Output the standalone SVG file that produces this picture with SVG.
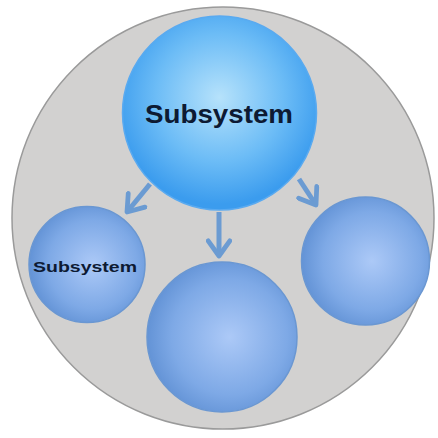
<svg xmlns="http://www.w3.org/2000/svg" width="438" height="438" viewBox="0 0 438 438">
<defs>
<radialGradient id="gTop" cx="0.5" cy="0.42" r="0.55">
<stop offset="0" stop-color="#b6e2fb"/>
<stop offset="0.6" stop-color="#6cbcf6"/>
<stop offset="1" stop-color="#3b9cee"/>
</radialGradient>
<radialGradient id="gSub" cx="0.55" cy="0.5" r="0.55">
<stop offset="0" stop-color="#acc9f7"/>
<stop offset="0.7" stop-color="#7ea9e6"/>
<stop offset="1" stop-color="#6393d6"/>
</radialGradient>
<marker id="chev" viewBox="0 0 12 12" refX="9" refY="6" markerWidth="5.2" markerHeight="5.2" orient="auto" markerUnits="strokeWidth">
<path d="M2,1 L9,6 L2,11" fill="none" stroke="#6b9bd2" stroke-width="2.2" stroke-linecap="round" stroke-linejoin="round"/>
</marker>
<style>
.sub{fill:url(#gSub);stroke:#6a97d2;stroke-width:1.5}
.lbl{font-family:"Liberation Sans",Arial,sans-serif;font-weight:bold;fill:#0d1a33;text-anchor:middle}
.con{stroke:#6b9bd2;stroke-width:5;fill:none;marker-end:url(#chev)}
</style>
</defs>
<g id="container">
<circle cx="223" cy="218" r="211" fill="#d2d1d0" stroke="#9a9a9a" stroke-width="1.5"/>
</g>
<g id="connectors">
<line class="con" x1="150" y1="184" x2="127" y2="212"/>
<line class="con" x1="219" y1="212" x2="219" y2="256"/>
<line class="con" x1="299" y1="179" x2="316" y2="205"/>
</g>
<g id="top">
<circle cx="219.5" cy="113" r="97" fill="url(#gTop)" stroke="#5aaaf0" stroke-width="1.5"/>
<text class="lbl" x="219" y="123" font-size="26" textLength="148" lengthAdjust="spacingAndGlyphs">Subsystem</text>
</g>
<g id="left">
<circle class="sub" cx="87" cy="264.5" r="58"/>
<text class="lbl" x="85" y="272" font-size="15" textLength="104" lengthAdjust="spacingAndGlyphs">Subsystem</text>
</g>
<g id="bottom">
<circle class="sub" cx="222" cy="337" r="75"/>
</g>
<g id="right">
<circle class="sub" cx="365.5" cy="261" r="64"/>
</g>
</svg>
